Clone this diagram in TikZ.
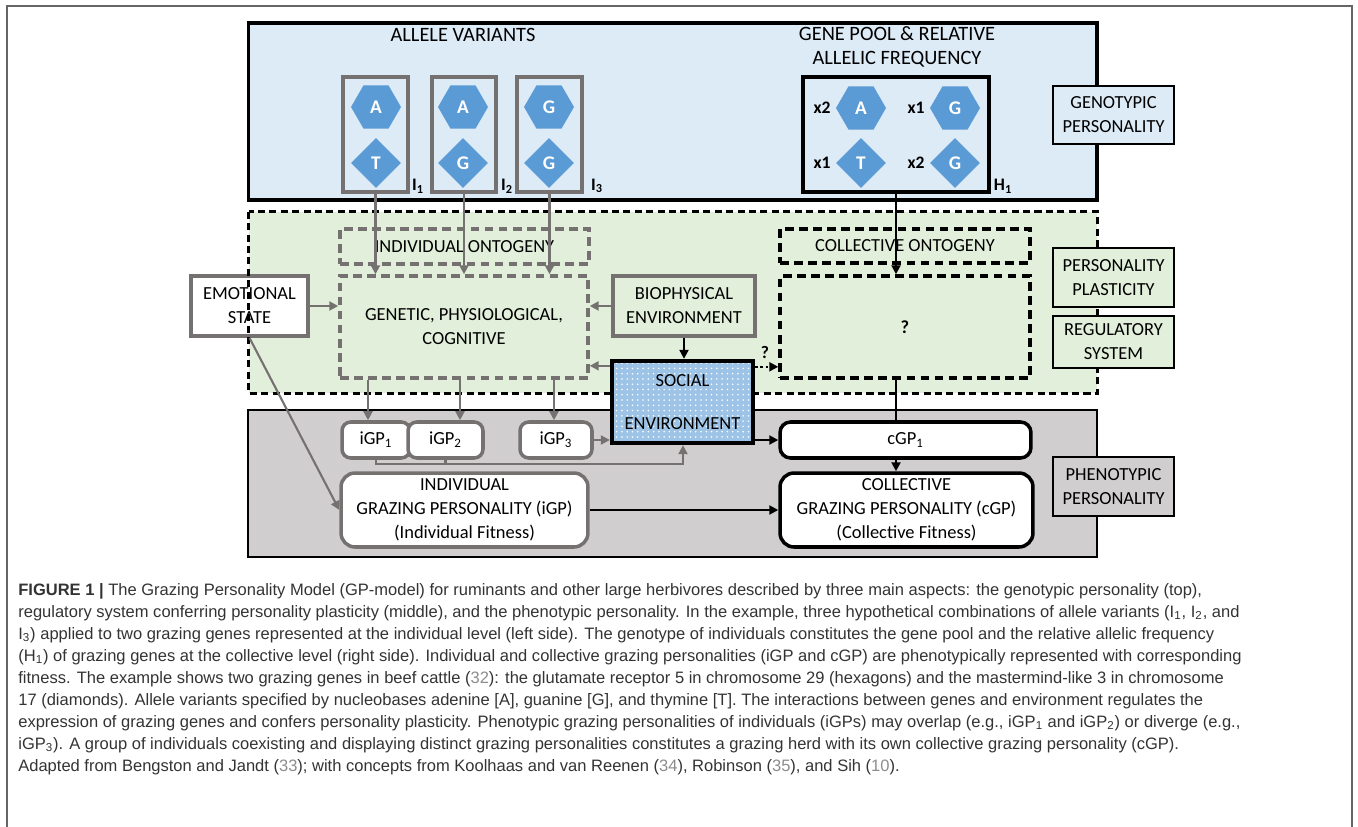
\documentclass[tikz,border=0pt]{standalone}
\usepackage{fontspec}
\setmainfont{Liberation Sans}
\newfontfamily\calib{Carlito}
\usetikzlibrary{arrows.meta,positioning,calc,shapes.geometric,patterns}
\definecolor{panblue}{HTML}{DDEBF7}
\definecolor{pangreen}{HTML}{E2EFDA}
\definecolor{pangray}{HTML}{D0CECE}
\definecolor{boxgray}{HTML}{767171}
\definecolor{genblue}{HTML}{5B9BD5}
\definecolor{socblue}{HTML}{9DC3E6}
\definecolor{captext}{HTML}{333333}
\definecolor{citegray}{HTML}{8C8C8C}
\tikzset{
  panel/.style={draw,line width=1.8pt,inner sep=0pt},
  gbox/.style={draw=boxgray,line width=2pt,align=center,inner sep=0pt},
  kbox/.style={draw,line width=1.6pt,align=center,inner sep=0pt},
  gdash/.style={gbox,dash pattern=on 5pt off 3pt},
  kdash/.style={kbox,line width=2pt,dash pattern=on 5pt off 3pt},
  hexa/.style={regular polygon,regular polygon sides=6,fill=genblue,minimum size=1cm,
    inner sep=0pt,text=white,font=\calib\fontsize{11}{13}\bfseries},
  romb/.style={diamond,fill=genblue,minimum width=1cm,minimum height=1cm,
    inner sep=0pt,text=white,font=\calib\fontsize{11}{13}\bfseries},
  lab/.style={font=\calib\bfseries,inner sep=0pt},
  ttl/.style={align=center,font=\calib\fontsize{11.6}{13.6}\selectfont},
  gline/.style={draw=boxgray,line width=1.2pt},
  kline/.style={draw=black,line width=1.2pt},
  garr/.style={gline,-{Triangle[length=1.8mm,width=1.8mm]}},
  karr/.style={kline,-{Triangle[length=1.8mm,width=1.8mm]}},
  captxt/.style={anchor=base west,inner sep=0pt,text=captext,
    font=\rmfamily\fontsize{9.4}{11}\selectfont},
}
\newcommand{\cit}[1]{{\color{citegray}#1}}

\begin{document}
\begin{tikzpicture}[x=0.02cm,y=-0.02cm,font=\calib\fontsize{10.5}{13.6}\selectfont]
  \useasboundingbox (0,0) rectangle (1358,827);
  \draw[black!60,line width=1pt] (7,827) -- (7,6) -- (1352,6) -- (1352,827);

  % three panels
  \node[panel,fill=panblue,minimum width=16.98cm,minimum height=3.54cm] (geno) at (672.5,111.5) {};
  \node[panel,fill=pangray,line width=1.5pt,minimum width=16.98cm,minimum height=2.94cm] (phen) at (672.5,483.5) {};
  \node[fill=pangreen,inner sep=0pt,minimum width=16.96cm,minimum height=3.62cm] (reg) at (673,302.5) {};

  % genotypic level
  \node[ttl] (allv) at (463,35) {ALLELE VARIANTS};
  \node[ttl] (gpool) at (897,47) {GENE POOL \& RELATIVE\\ALLELIC FREQUENCY};
  \node[gbox,minimum width=1.3cm,minimum height=2.3cm] (i1) at (375.5,134.5) {};
  \node[gbox,minimum width=1.28cm,minimum height=2.3cm] (i2) at (464,134.5) {};
  \node[gbox,minimum width=1.3cm,minimum height=2.3cm] (i3) at (549.5,134.5) {};
  \node[kbox,line width=2.2pt,minimum width=3.72cm,minimum height=2.3cm] (h1) at (896,134.5) {};
  \node[hexa] (i1a) at (376,107) {A};
  \node[romb] (i1b) at (376,163) {T};
  \node[hexa] (i2a) at (463,107) {A};
  \node[romb] (i2b) at (463,163) {G};
  \node[hexa] (i3a) at (549,107) {G};
  \node[romb] (i3b) at (549,163) {G};
  \node[lab] (li1) at (418,186) {I\textsubscript{1}};
  \node[lab] (li2) at (507,186) {I\textsubscript{2}};
  \node[lab] (li3) at (597,186) {I\textsubscript{3}};
  \node[hexa] (h1a) at (861,108) {A};
  \node[hexa] (h1g) at (955,108) {G};
  \node[romb] (h1t) at (861,163) {T};
  \node[romb] (h1d) at (955,163) {G};
  \node[lab] (n1) at (822,108) {x2};
  \node[lab] (n2) at (916,108) {x1};
  \node[lab] (n3) at (822,163) {x1};
  \node[lab] (n4) at (916,163) {x2};
  \node[lab] (lh1) at (1003,186) {H\textsubscript{1}};

  % regulatory system
  \node[gdash,minimum width=4.98cm,minimum height=0.7cm] (iont) at (464.5,246.5) {INDIVIDUAL ONTOGENY};
  \node[gdash,minimum width=4.96cm,minimum height=2.04cm] (genet) at (464,327) {GENETIC, PHYSIOLOGICAL,\\COGNITIVE};
  \node[kdash,minimum width=5cm,minimum height=0.68cm] (cont) at (905,246) {COLLECTIVE ONTOGENY};
  \node[kdash,minimum width=5cm,minimum height=2.04cm] (qbox) at (905,327) {\textbf{?}};
  \node[gbox,fill=white,line width=2.2pt,minimum width=2.34cm,minimum height=1.2cm] (emo) at (249.5,306) {EMOTIONAL\\STATE};
  \draw[line width=1.5pt,dash pattern=on 4pt off 2.5pt] (reg.north west) rectangle (reg.south east);
  \node[gbox,fill=pangreen,line width=2.2pt,minimum width=2.84cm,minimum height=1.2cm] (bio) at (684,306) {BIOPHYSICAL\\ENVIRONMENT};
  \node[kbox,line width=2.5pt,preaction={fill=socblue},pattern=dots,pattern color=white,
    minimum width=2.82cm,minimum height=1.64cm] (soc) at (682.5,402) {SOCIAL\\[11pt]ENVIRONMENT};
  \node[lab] (qm) at (765,352) {?};

  % phenotypic level
  \node[gbox,rounded corners=5pt,fill=white,minimum width=1.36cm,minimum height=0.72cm] (igp1) at (376,440) {iGP\textsubscript{1}};
  \node[gbox,rounded corners=5pt,fill=white,minimum width=1.5cm,minimum height=0.72cm] (igp2) at (445.5,440) {iGP\textsubscript{2}};
  \node[gbox,rounded corners=5pt,fill=white,minimum width=1.44cm,minimum height=0.72cm] (igp3) at (556,440) {iGP\textsubscript{3}};
  \node[kbox,rounded corners=6pt,fill=white,line width=2pt,minimum width=5.02cm,minimum height=0.72cm] (cgp1) at (905.5,440) {cGP\textsubscript{1}};
  \node[gbox,rounded corners=8pt,fill=white,minimum width=4.94cm,minimum height=1.48cm] (ind) at (464.5,510)
    {INDIVIDUAL\\GRAZING PERSONALITY (iGP)\\(Individual Fitness)};
  \node[kbox,rounded corners=8pt,fill=white,line width=2pt,minimum width=5.06cm,minimum height=1.48cm] (col) at (906.5,510)
    {COLLECTIVE\\GRAZING PERSONALITY (cGP)\\(Collective Fitness)};

  % side tags
  \node[kbox,fill=panblue,minimum width=2.42cm,minimum height=1.16cm] (gtag) at (1113.5,115) {GENOTYPIC\\PERSONALITY};
  \node[kbox,fill=pangreen,minimum width=2.42cm,minimum height=1.18cm] (ptag) at (1113.5,277.5) {PERSONALITY\\PLASTICITY};
  \node[kbox,fill=pangreen,minimum width=2.42cm,minimum height=1.04cm] (rtag) at (1113.5,342) {REGULATORY\\SYSTEM};
  \node[kbox,fill=pangray,minimum width=2.42cm,minimum height=1.18cm] (ftag) at (1113.5,486.5) {PHENOTYPIC\\PERSONALITY};

  % connectors
  \draw[garr] (i1.south) -- (i1.south |- genet.north);
  \draw[garr] (i2.south) -- (i2.south |- genet.north);
  \draw[garr] (i3.south) -- (i3.south |- genet.north);
  \draw[karr] (h1.south) -- (h1.south |- qbox.north);
  \draw[kline] (h1.south |- qbox.south) -- (h1.south |- cgp1.north);
  \draw[karr] (h1.south |- cgp1.south) -- (h1.south |- col.north);
  \draw[garr] (emo.east) -- (emo.east -| genet.west);
  \draw[garr] (emo.south) -- (ind.west);
  \draw[garr] (bio.west) -- (bio.west -| genet.east);
  \draw[karr] (bio.south) -- (bio.south |- soc.north);
  \coordinate (sw) at ($(soc.north west)+(0,7)$);
  \coordinate (se) at ($(soc.north east)+(0,8)$);
  \draw[garr] (sw) -- (sw -| genet.east);
  \draw[karr,dash pattern=on 1.4pt off 1.6pt] (se) -- (se -| qbox.west);
  \draw[karr] (soc.east |- cgp1.west) -- (cgp1.west);
  \draw[garr] (igp3.east) -- (igp3.east -| soc.west);
  \coordinate (t1) at (368,0);
  \coordinate (t2) at (460,0);
  \coordinate (t3) at (554,0);
  \draw[garr] (t1 |- genet.south) -- (t1 |- igp1.north);
  \draw[garr] (t2 |- genet.south) -- (t2 |- igp2.north);
  \draw[garr] (t3 |- genet.south) -- (t3 |- igp3.north);
  \coordinate (br) at (683,464);
  \draw[garr] (igp1.south) |- (br) -- (br |- soc.south);
  \draw[gline] (igp2.south) -- (igp2.south |- br);
  \draw[karr] (ind.east) -- (col.west);

  % caption
  \node[captxt] (c1) at (18,595) {\textbf{FIGURE 1 |} The Grazing Personality Model (GP-model) for ruminants and other large herbivores described by three main aspects: the genotypic personality (top),};
  \node[captxt] (c2) at (18,617) {regulatory system conferring personality plasticity (middle), and the phenotypic personality. In the example, three hypothetical combinations of allele variants (I\textsubscript{1}, I\textsubscript{2}, and};
  \node[captxt] (c3) at (18,639) {I\textsubscript{3}) applied to two grazing genes represented at the individual level (left side). The genotype of individuals constitutes the gene pool and the relative allelic frequency};
  \node[captxt] (c4) at (18,661) {(H\textsubscript{1}) of grazing genes at the collective level (right side). Individual and collective grazing personalities (iGP and cGP) are phenotypically represented with corresponding};
  \node[captxt] (c5) at (18,683) {fitness. The example shows two grazing genes in beef cattle (\cit{32}): the glutamate receptor 5 in chromosome 29 (hexagons) and the mastermind-like 3 in chromosome};
  \node[captxt] (c6) at (18,705) {17 (diamonds). Allele variants specified by nucleobases adenine [A], guanine [G], and thymine [T]. The interactions between genes and environment regulates the};
  \node[captxt] (c7) at (18,727) {expression of grazing genes and confers personality plasticity. Phenotypic grazing personalities of individuals (iGPs) may overlap (e.g., iGP\textsubscript{1} and iGP\textsubscript{2}) or diverge (e.g.,};
  \node[captxt] (c8) at (18,749) {iGP\textsubscript{3}). A group of individuals coexisting and displaying distinct grazing personalities constitutes a grazing herd with its own collective grazing personality (cGP).};
  \node[captxt] (c9) at (18,771) {Adapted from Bengston and Jandt (\cit{33}); with concepts from Koolhaas and van Reenen (\cit{34}), Robinson (\cit{35}), and Sih (\cit{10}).};
\end{tikzpicture}
\end{document}
